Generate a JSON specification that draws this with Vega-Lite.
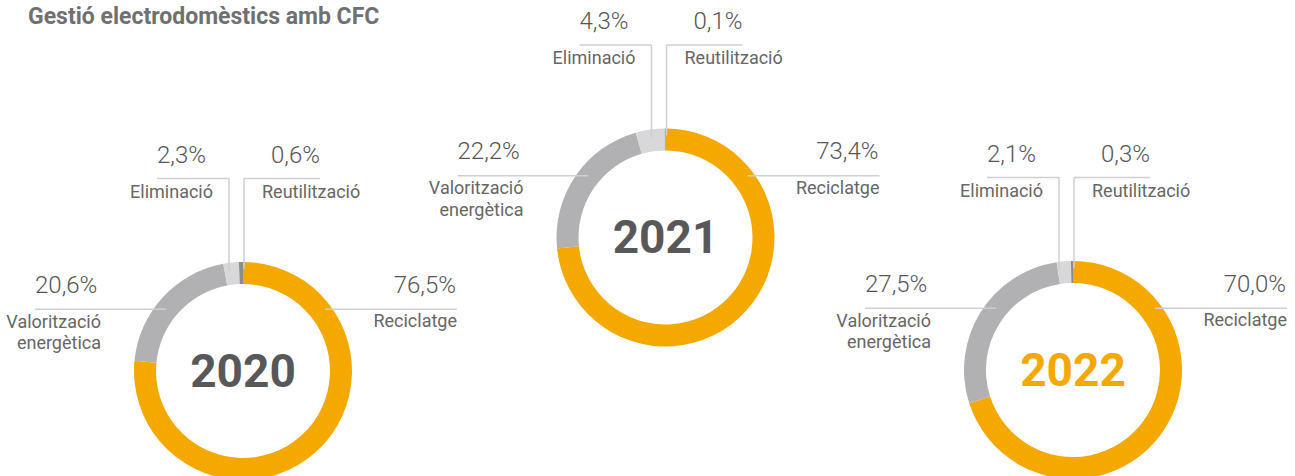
{
  "$schema": "https://vega.github.io/schema/vega-lite/v6.json",
  "width": 1295,
  "height": 476,
  "padding": 0,
  "autosize": {"type": "none"},
  "background": "white",
  "config": {
    "view": {"stroke": null},
    "locale": {"number": {"decimal": ",", "thousands": ".", "grouping": [3], "currency": ["", " €"]}},
    "text": {"font": "Roboto"}
  },
  "title": {
    "text": "Gestió electrodomèstics amb CFC",
    "anchor": "start",
    "frame": "group",
    "orient": "top",
    "offset": 0,
    "dx": 28,
    "dy": 47,
    "baseline": "alphabetic",
    "font": "Roboto",
    "fontSize": 23,
    "fontWeight": "bold",
    "color": "#707070"
  },
  "data": {
    "values": [
      {"year": 2020, "category": "Reciclatge", "share": 0.765},
      {"year": 2020, "category": "Valorització energètica", "share": 0.206},
      {"year": 2020, "category": "Eliminació", "share": 0.023},
      {"year": 2020, "category": "Reutilització", "share": 0.006},
      {"year": 2021, "category": "Reciclatge", "share": 0.734},
      {"year": 2021, "category": "Valorització energètica", "share": 0.222},
      {"year": 2021, "category": "Eliminació", "share": 0.043},
      {"year": 2021, "category": "Reutilització", "share": 0.001},
      {"year": 2022, "category": "Reciclatge", "share": 0.700},
      {"year": 2022, "category": "Valorització energètica", "share": 0.275},
      {"year": 2022, "category": "Eliminació", "share": 0.021},
      {"year": 2022, "category": "Reutilització", "share": 0.003}
    ]
  },
  "encoding": {
    "x": {"field": "year", "type": "quantitative", "scale": {"domain": [2020, 2021, 2022], "range": [243, 665.5, 1073], "zero": false, "nice": false}, "axis": null},
    "y": {"field": "year", "type": "quantitative", "scale": {"domain": [2020, 2021, 2022], "range": [371, 237.5, 370], "zero": false, "nice": false}, "axis": null}
  },
  "layer": [
    {
      "transform": [
        {"stack": "share", "groupby": ["year"], "sort": [{"field": "share", "order": "descending"}], "as": ["t0", "t1"], "offset": "normalize"}
      ],
      "mark": {"type": "arc", "outerRadius": 109, "innerRadius": 87},
      "encoding": {
        "theta": {"field": "t0", "type": "quantitative", "scale": {"domain": [0, 1]}},
        "theta2": {"field": "t1"},
        "color": {
          "field": "category",
          "type": "nominal",
          "scale": {
            "domain": ["Reciclatge", "Valorització energètica", "Eliminació", "Reutilització"],
            "range": ["#F5A800", "#B1B0B3", "#D8D7DA", "#8C8C8E"]
          },
          "legend": null
        }
      }
    },
    {
      "transform": [{"filter": "datum.category === 'Reciclatge'"}],
      "mark": {"type": "text", "align": "center", "baseline": "alphabetic", "dy": 15.5, "fontSize": 46, "fontWeight": "bold", "font": "Roboto"},
      "encoding": {
        "text": {"field": "year", "type": "nominal"},
        "color": {"condition": {"test": "datum.year === 2022", "value": "#F5A800"}, "value": "#58585A"}
      }
    },
    {
      "transform": [{"filter": "datum.category === 'Eliminació'"}],
      "mark": {"type": "rule", "color": "#CFCFCF", "strokeWidth": 1.5, "xOffset": -86, "x2Offset": -14, "yOffset": -192.5},
      "encoding": {"x2": {"field": "year"}}
    },
    {
      "transform": [{"filter": "datum.category === 'Eliminació'"}],
      "mark": {"type": "rule", "color": "#CFCFCF", "strokeWidth": 1.5, "xOffset": -14, "yOffset": -192.5, "y2Offset": -100},
      "encoding": {"y2": {"field": "year"}}
    },
    {
      "transform": [{"filter": "datum.category === 'Reutilització'"}],
      "mark": {"type": "rule", "color": "#CFCFCF", "strokeWidth": 1.5, "xOffset": 1, "yOffset": -192.5, "y2Offset": -102},
      "encoding": {"y2": {"field": "year"}}
    },
    {
      "transform": [{"filter": "datum.category === 'Reutilització'"}],
      "mark": {"type": "rule", "color": "#CFCFCF", "strokeWidth": 1.5, "xOffset": 1, "x2Offset": 77, "yOffset": -192.5},
      "encoding": {"x2": {"field": "year"}}
    },
    {
      "transform": [{"filter": "datum.category === 'Valorització energètica'"}],
      "mark": {"type": "rule", "color": "#CFCFCF", "strokeWidth": 1.5, "xOffset": -208, "x2Offset": -77, "yOffset": -61.7},
      "encoding": {"x2": {"field": "year"}}
    },
    {
      "transform": [{"filter": "datum.category === 'Reciclatge'"}],
      "mark": {"type": "rule", "color": "#CFCFCF", "strokeWidth": 1.5, "xOffset": 82, "x2Offset": 214, "yOffset": -61.7},
      "encoding": {"x2": {"field": "year"}}
    },
    {
      "transform": [{"filter": "datum.category === 'Eliminació'"}],
      "mark": {"type": "text", "align": "left", "baseline": "alphabetic", "dx": -86, "dy": -208.5, "fontSize": 24, "fontWeight": 300, "color": "#555555"},
      "encoding": {"text": {"field": "share", "type": "quantitative", "format": ".1%"}}
    },
    {
      "transform": [{"filter": "datum.category === 'Eliminació'"}],
      "mark": {"type": "text", "align": "right", "baseline": "alphabetic", "dx": -30, "dy": -173.5, "fontSize": 18, "fontWeight": 400, "color": "#666666"},
      "encoding": {"text": {"field": "category", "type": "nominal"}}
    },
    {
      "transform": [{"filter": "datum.category === 'Reutilització'"}],
      "mark": {"type": "text", "align": "right", "baseline": "alphabetic", "dx": 77, "dy": -208.5, "fontSize": 24, "fontWeight": 300, "color": "#555555"},
      "encoding": {"text": {"field": "share", "type": "quantitative", "format": ".1%"}}
    },
    {
      "transform": [{"filter": "datum.category === 'Reutilització'"}],
      "mark": {"type": "text", "align": "left", "baseline": "alphabetic", "dx": 19, "dy": -173.5, "fontSize": 18, "fontWeight": 400, "color": "#666666"},
      "encoding": {"text": {"field": "category", "type": "nominal"}}
    },
    {
      "transform": [{"filter": "datum.category === 'Valorització energètica'"}],
      "mark": {"type": "text", "align": "left", "baseline": "alphabetic", "dx": -208, "dy": -78.5, "fontSize": 24, "fontWeight": 300, "color": "#555555"},
      "encoding": {"text": {"field": "share", "type": "quantitative", "format": ".1%"}}
    },
    {
      "transform": [{"filter": "datum.category === 'Valorització energètica'"}],
      "mark": {"type": "text", "align": "right", "baseline": "alphabetic", "dx": -142, "dy": -43.5, "lineBreak": " ", "lineHeight": 21.5, "fontSize": 18, "fontWeight": 400, "color": "#666666"},
      "encoding": {"text": {"field": "category", "type": "nominal"}}
    },
    {
      "transform": [{"filter": "datum.category === 'Reciclatge'"}],
      "mark": {"type": "text", "align": "right", "baseline": "alphabetic", "dx": 213, "dy": -78.5, "fontSize": 24, "fontWeight": 300, "color": "#555555"},
      "encoding": {"text": {"field": "share", "type": "quantitative", "format": ".1%"}}
    },
    {
      "transform": [{"filter": "datum.category === 'Reciclatge'"}],
      "mark": {"type": "text", "align": "right", "baseline": "alphabetic", "dx": 214, "dy": -44, "fontSize": 18, "fontWeight": 400, "color": "#666666"},
      "encoding": {"text": {"field": "category", "type": "nominal"}}
    }
  ]
}
